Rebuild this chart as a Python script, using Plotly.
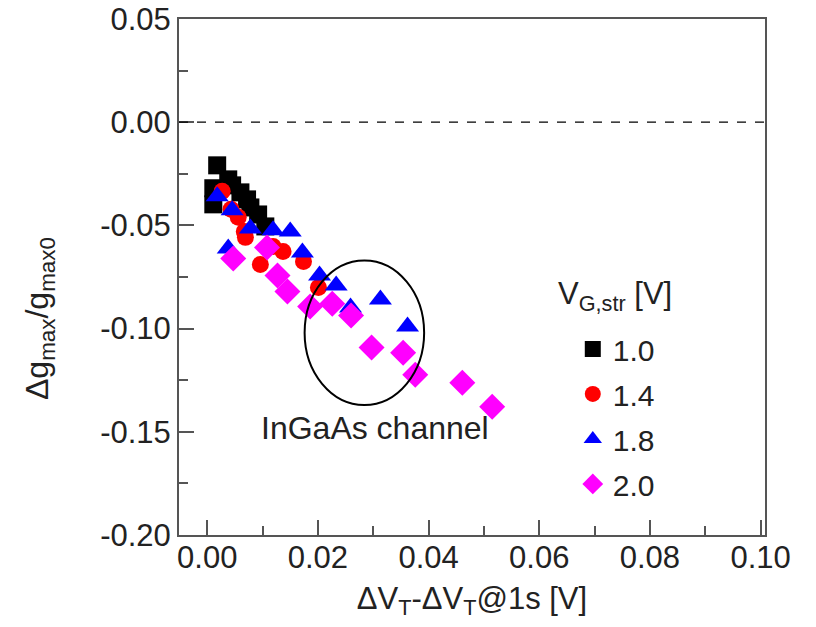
import plotly.graph_objects as go

# Series data
x_10 = [0.0018, 0.0011, 0.0011, 0.0038, 0.0045, 0.0060, 0.0072, 0.0078, 0.0092, 0.0105]
y_10 = [-0.0209, -0.0320, -0.0398, -0.0277, -0.0306, -0.0340, -0.0374, -0.0413, -0.0447, -0.0505]

x_14 = [0.0027, 0.0043, 0.0056, 0.0067, 0.0069, 0.0096, 0.0119, 0.0137, 0.0174, 0.0201]
y_14 = [-0.0335, -0.0422, -0.0460, -0.0530, -0.0558, -0.0689, -0.0602, -0.0626, -0.0675, -0.0801]

x_18 = [0.0018, 0.0045, 0.0078, 0.0038, 0.0119, 0.0150, 0.0172, 0.0203, 0.0233, 0.0259, 0.0313, 0.0362]
y_18 = [-0.0359, -0.0427, -0.0515, -0.0612, -0.0524, -0.0529, -0.0631, -0.0743, -0.0791, -0.0898, -0.0859, -0.0990]

x_20 = [0.0047, 0.0108, 0.0127, 0.0145, 0.0186, 0.0226, 0.0260, 0.0297, 0.0354, 0.0376, 0.0461, 0.0515]
y_20 = [-0.0660, -0.0607, -0.0743, -0.0820, -0.0893, -0.0879, -0.0937, -0.1092, -0.1117, -0.1223, -0.1262, -0.1379]

series_names = ["1.0", "1.4", "1.8", "2.0"]
x_ticks = [0.00, 0.02, 0.04, 0.06, 0.08, 0.10]
y_ticks = [0.05, 0.00, -0.05, -0.10, -0.15, -0.20]

FONT = "Liberation Sans, Arial, sans-serif"
AX = "#555555"

fig = go.Figure()
styles = [
    dict(symbol="square", color="black", size=18),
    dict(symbol="circle", color="red", size=17),
    dict(symbol="triangle-up", color="blue", size=20),
    dict(symbol="diamond", color="#ff00ff", size=20),
]
for name, xs, ys, st in zip(series_names, [x_10, x_14, x_18, x_20], [y_10, y_14, y_18, y_20], styles):
    fig.add_trace(go.Scatter(
        x=xs, y=ys, mode="markers", name=name, legendgroup=name,
        marker=dict(symbol=st["symbol"], color=st["color"], size=st["size"], line=dict(width=0)),
    ))

# dashed zero line
fig.add_shape(type="line", xref="paper", yref="y", x0=0, x1=1, y0=0, y1=0,
              line=dict(color="black", width=1.2, dash="dash"))
# ellipse
fig.add_shape(type="circle", xref="x", yref="y", x0=0.0176, x1=0.0392, y0=-0.137, y1=-0.067,
              line=dict(color="black", width=2))

fig.add_annotation(x=0.0304, y=-0.148, xref="x", yref="y", text="InGaAs channel",
                   showarrow=False, font=dict(family=FONT, size=32, color="#222"))

# y-axis title
fig.add_annotation(x=-0.276, y=0.42, xref="paper", yref="paper", textangle=-90,
                   text="Δg<sub>max</sub>/g<sub>max0</sub>", showarrow=False,
                   font=dict(family=FONT, size=32, color="#222"))
# legend title
fig.add_annotation(x=0.643, y=0.463, xref="paper", yref="paper", xanchor="left", yanchor="middle",
                   text="V<sub>G,str</sub> [V]", showarrow=False,
                   font=dict(family=FONT, size=31, color="#222"))

fig.update_layout(
    width=816, height=627,
    margin=dict(l=179, r=51, t=19, b=92),
    plot_bgcolor="white", paper_bgcolor="white",
    font=dict(family=FONT, size=30, color="#222"),
    showlegend=True,
    legend=dict(
        x=0.672, y=0.411, xanchor="left", yanchor="top",
        bgcolor="rgba(0,0,0,0)", traceorder="grouped", tracegroupgap=3,
        font=dict(size=30),
    ),
)
fig.update_xaxes(
    range=[-0.0051, 0.1008], tickvals=x_ticks, ticktext=[f"{v:.2f}" for v in x_ticks],
    showline=True, mirror=True, linecolor=AX, linewidth=2, automargin=False,
    ticks="inside", ticklen=15, tickwidth=2, tickcolor=AX,
    minor=dict(ticks="inside", ticklen=9, tickwidth=2, tickcolor=AX, dtick=0.01, tick0=0),
    showgrid=False, zeroline=False,
    tickfont=dict(size=31), ticklabelstandoff=-6,
    title=dict(text="ΔV<sub>T</sub>-ΔV<sub>T</sub>@1s [V]", font=dict(size=31), standoff=13),
)
fig.update_yaxes(
    range=[-0.2, 0.05], tickvals=y_ticks, ticktext=[f"{v:.2f}" for v in y_ticks],
    showline=True, mirror=True, linecolor=AX, linewidth=2, automargin=False,
    ticks="inside", ticklen=15, tickwidth=2, tickcolor=AX,
    minor=dict(ticks="inside", ticklen=9, tickwidth=2, tickcolor=AX, dtick=0.025, tick0=0),
    showgrid=False, zeroline=False,
    tickfont=dict(size=31),
)

fig.write_html("out.html")
